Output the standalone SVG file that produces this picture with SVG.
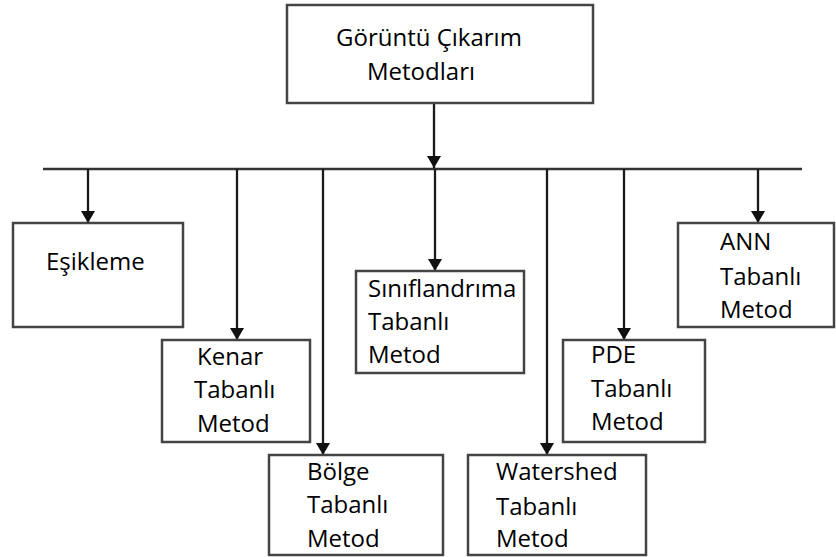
<svg xmlns="http://www.w3.org/2000/svg" width="836" height="557" viewBox="0 0 836 557">
<defs>
<marker id="arr" viewBox="0 0 12 14" refX="12" refY="7" markerWidth="12" markerHeight="14" markerUnits="userSpaceOnUse" orient="auto">
<path d="M0,0 L12,7 L0,14 Z" fill="#111"/>
</marker>
<style>
.box{fill:#fff;stroke:#444;stroke-width:2.5}
.t{font-family:"Open Sans","Liberation Sans",sans-serif;font-size:24px;fill:#000}
.c{stroke:#333;stroke-width:2.3;fill:none}
.a{stroke:#1a1a1a;stroke-width:2.3;fill:none;marker-end:url(#arr)}
</style>
</defs>
<rect width="836" height="557" fill="#fff"/>
<g id="connectors">
<line class="c" x1="43" y1="169" x2="802" y2="169"/>
<line class="a" x1="434" y1="103" x2="434" y2="168"/>
<line class="a" x1="88" y1="169" x2="88" y2="223"/>
<line class="a" x1="237" y1="169" x2="237" y2="340"/>
<line class="a" x1="323" y1="169" x2="323" y2="455"/>
<line class="a" x1="435" y1="169" x2="435" y2="271"/>
<line class="a" x1="547" y1="169" x2="547" y2="455"/>
<line class="a" x1="624" y1="169" x2="624" y2="340"/>
<line class="a" x1="758" y1="169" x2="758" y2="223"/>
</g>
<g id="root">
<rect class="box" x="287" y="5" width="306" height="98"/>
<text class="t" x="336" y="46">Görüntü Çıkarım</text>
<text class="t" x="367" y="80">Metodları</text>
</g>
<g id="esikleme">
<rect class="box" x="13" y="223" width="170" height="104"/>
<text class="t" x="46" y="270">Eşikleme</text>
</g>
<g id="kenar">
<rect class="box" x="162" y="340" width="148" height="102"/>
<text class="t" x="197" y="365">Kenar</text>
<text class="t" x="194" y="398">Tabanlı</text>
<text class="t" x="197" y="432">Metod</text>
</g>
<g id="bolge">
<rect class="box" x="269" y="455" width="174" height="100"/>
<text class="t" x="307" y="480">Bölge</text>
<text class="t" x="307" y="513">Tabanlı</text>
<text class="t" x="307" y="547">Metod</text>
</g>
<g id="siniflandirma">
<rect class="box" x="356" y="271" width="168" height="102"/>
<text class="t" x="368" y="297">Sınıflandrıma</text>
<text class="t" x="368" y="330">Tabanlı</text>
<text class="t" x="368" y="363">Metod</text>
</g>
<g id="watershed">
<rect class="box" x="468" y="455" width="178" height="100"/>
<text class="t" x="496" y="480">Watershed</text>
<text class="t" x="496" y="515">Tabanlı</text>
<text class="t" x="496" y="547">Metod</text>
</g>
<g id="pde">
<rect class="box" x="563" y="340" width="142" height="102"/>
<text class="t" x="591" y="363">PDE</text>
<text class="t" x="591" y="397">Tabanlı</text>
<text class="t" x="591" y="430">Metod</text>
</g>
<g id="ann">
<rect class="box" x="678" y="223" width="156" height="104"/>
<text class="t" x="720" y="250">ANN</text>
<text class="t" x="720" y="285">Tabanlı</text>
<text class="t" x="720" y="318">Metod</text>
</g>
</svg>
